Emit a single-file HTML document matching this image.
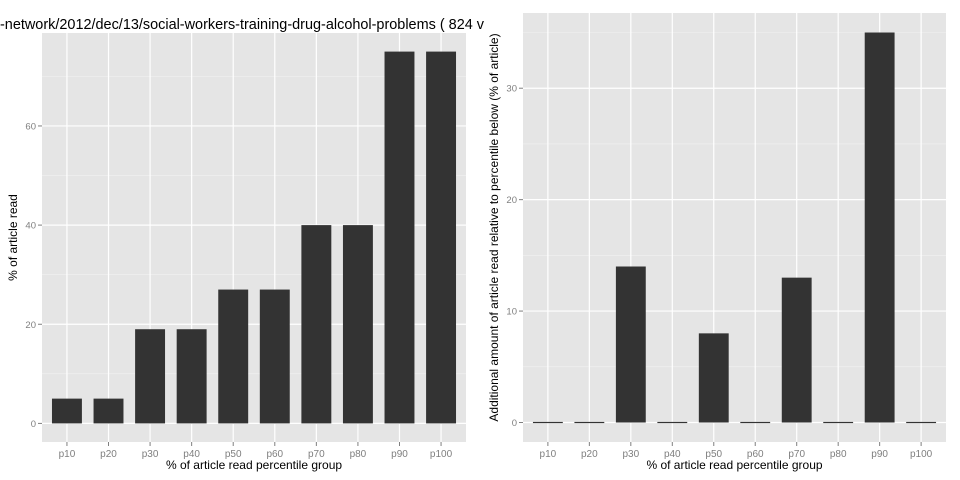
<!DOCTYPE html>
<html><head><meta charset="utf-8"><style>
html,body{margin:0;padding:0;background:#fff;}
svg{display:block;font-family:"Liberation Sans",sans-serif;}
</style></head><body>
<svg id="c" width="960" height="480"></svg>
<script>
const categories=["p10","p20","p30","p40","p50","p60","p70","p80","p90","p100"];
const readValues=[5,5,19,19,27,27,40,40,75,75];
const additionalValues=[0,0,14,0,8,0,13,0,35,0];
const leftTicks=[0,20,40,60];
const rightTicks=[0,10,20,30];
const NS="http://www.w3.org/2000/svg";
const svg=document.getElementById("c");
function mk(tag,attrs,parent,text){const e=document.createElementNS(NS,tag);for(const k in attrs)e.setAttribute(k,attrs[k]);if(text!==undefined)e.textContent=text;(parent||svg).appendChild(e);return e;}
function panel(x0,x1,y0,y1,values,ticks,yTitle,name){
  const g=mk("g",{});
  
  
  const maxV=Math.max(...values);
  const lo=-maxV*0.05, hi=maxV*1.05;
  const ys=v=>y1-(v-lo)/(hi-lo)*(y1-y0);
  const step=(x1-x0)/(categories.length-1+1.2);
  const xs=i=>x0+step*(0.6+i);
  const bg=mk("rect",{x:x0,y:y0,width:x1-x0,height:y1-y0,fill:"#e5e5e5"},g);
  
  
  const tstep=ticks[1]-ticks[0];
  for(let i=0;i<ticks.length+1;i++){const v=ticks[0]+tstep*(i+0.5);if(v<hi)mk("line",{x1:x0,x2:x1,y1:ys(v),y2:ys(v),stroke:"#f2f2f2","stroke-width":0.6},g);}
  ticks.forEach(t=>{
    mk("line",{x1:x0,x2:x1,y1:ys(t),y2:ys(t),stroke:"#fff","stroke-width":1.2},g);
    mk("line",{x1:x0-4,x2:x0,y1:ys(t),y2:ys(t),stroke:"#7f7f7f","stroke-width":1},g);
    const tl=mk("text",{x:x0-6,y:ys(t)+3.5,"text-anchor":"end","font-size":9.5,fill:"#7f7f7f"},g,String(t));
    
    
  });
  categories.forEach((c,i)=>{
    mk("line",{x1:xs(i),x2:xs(i),y1:y0,y2:y1,stroke:"#fff","stroke-width":1.2},g);
    mk("line",{x1:xs(i),x2:xs(i),y1:y1,y2:y1+4,stroke:"#7f7f7f","stroke-width":1},g);
    const tl=mk("text",{x:xs(i),y:y1+15,"text-anchor":"middle","font-size":10,fill:"#7f7f7f"},g,c);
    
    
  });
  const bw=step*0.72;
  values.forEach((v,i)=>{
    const top=ys(v),base=ys(0);
    const r=mk("rect",{x:xs(i)-bw/2,y:Math.min(top,base)-(v===0?0.6:0),width:bw,height:Math.max(Math.abs(base-top),1.2),fill:"#333333"},g);
    
    
  });
  const xt=mk("text",{x:(x0+x1)/2,y:y1+27,"text-anchor":"middle","font-size":12,fill:"#000"},g,"% of article read percentile group");
  
  
  const cy=(y0+y1)/2, cx=x0-25;
  const yt=mk("text",{x:cx,y:cy,"text-anchor":"middle","font-size":12,fill:"#000",transform:`rotate(-90 ${cx} ${cy})`},g,yTitle);
  
  
}
panel(42,466,33,442,readValues,leftTicks,"% of article read","left-panel");
panel(523,946,13,442,additionalValues,rightTicks,"Additional amount of article read relative to percentile below (% of article)","right-panel");
const title=mk("text",{x:0,y:29,"font-size":14.5,fill:"#000",textLength:484,lengthAdjust:"spacingAndGlyphs"},svg,"-network/2012/dec/13/social-workers-training-drug-alcohol-problems ( 824 v");


</script>
</body></html>
